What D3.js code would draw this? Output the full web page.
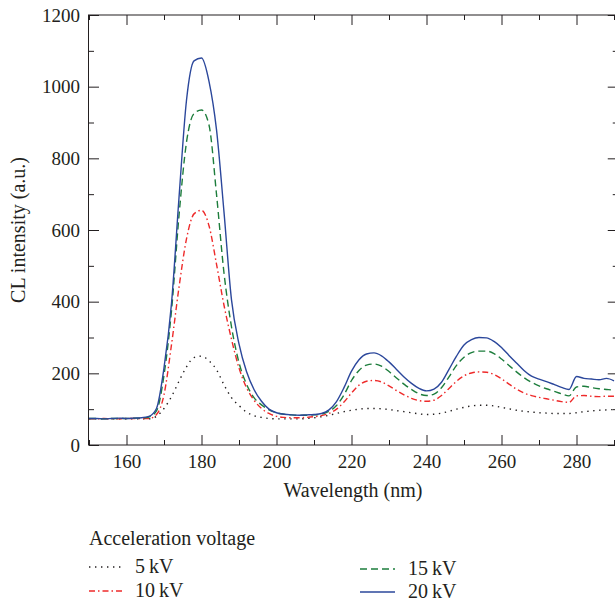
<!DOCTYPE html>
<meta charset="utf-8">
<style>
body{
	margin:0;
	background:#fff;
}
text{
	font-family:"Liberation Serif","DejaVu Serif",serif;
	font-size:20px;
	fill:#231f20;
}
.axis path{
	display:none;
}
.axis line{
	stroke:#231f20;
	stroke-width:1px;
}
.frame{
	fill:none;
	stroke:#231f20;
	stroke-width:1px;
}
.spec{
	fill:none;
	stroke-width:1.4px;
}
</style>
<body>
<script src="https://d3js.org/d3.v7.min.js"></script>
<script>

var wavelength=[150,152,154,156,158,160,162,164,166,168,170,172,174,176,178,180,182,184,186,188,
190,192,194,196,198,200,202,204,206,208,210,212,214,216,218,220,222,224,226,228,
230,232,234,236,238,240,242,244,246,248,250,252,254,256,258,260,262,264,266,268,
270,272,274,276,278,280,282,284,286,288,290];

var kv5=[73,73,73,73,73,73,73,73,73,80,102,135,178,218,244,248,235,210,168,132,
110,92,82,77,74,73,73,73,73,74,76,79,83,88,93,97,100,102,102,101,
99,96,93,90,87,85,86,89,94,100,105,109,111,111,109,105,101,97,94,92,
90,89,88,88,88,90,93,95,97,98,99];

var kv10=[73,73,74,73,73,74,74,74,74,85,140,280,440,575,645,655,612,505,390,295,
215,160,125,102,88,80,77,76,76,77,79,82,88,100,120,145,167,178,180,176,
165,152,140,130,124,122,125,138,158,178,193,201,204,203,197,185,170,156,145,138,
133,129,125,121,119,137,138,136,135,136,136];

var kv15=[74,74,73,74,74,74,75,75,78,95,195,375,640,845,925,935,893,700,480,330,
230,170,132,112,98,90,86,84,83,83,84,86,94,110,140,180,208,223,226,220,
205,187,170,155,143,138,142,160,190,222,245,258,262,262,255,240,222,204,188,175,
165,157,150,143,137,162,164,160,157,155,153];

var kv20=[74,74,73,74,75,74,75,76,80,102,215,395,690,962,1072,1080,1015,880,650,405,
282,205,155,122,100,90,86,84,83,84,85,88,98,121,160,206,238,254,257,249,
232,211,190,172,158,151,156,175,211,248,279,294,300,299,289,272,250,229,208,192,
184,177,169,161,155,191,186,184,182,186,179];

var xTicks=[160,180,200,220,240,260,280];
var xMinor=[150,170,190,210,230,250,270,290];
var yTicks=[0,200,400,600,800,1000,1200];
var yMinor=[100,300,500,700,900,1100];

var series=[
	{name:"5\u2009kV", values:kv5, color:"#231f20", dash:"1.4,4.6", col:0, row:0},
	{name:"10\u2009kV", values:kv10, color:"#ee2a2a", dash:"6,3,1.5,3", col:0, row:1},
	{name:"15\u2009kV", values:kv15, color:"#1d7d3c", dash:"7,4", col:1, row:0},
	{name:"20\u2009kV", values:kv20, color:"#2b479b", dash:null, col:1, row:1}
];

var W=615, H=604;
var svg=d3.select("body").append("svg").attr("width",W).attr("height",H);

var x=d3.scaleLinear().domain([150,291]).range([89,617.75]);
var y=d3.scaleLinear().domain([0,1200]).range([445,15]);

svg.append("clipPath").attr("id","plot")
	.append("rect").attr("x",89).attr("y",15).attr("width",617.75-89).attr("height",430);

// inward ticks on all four sides
svg.append("g").attr("class","axis").attr("transform","translate(0,445)")
	.call(d3.axisBottom(x).tickValues(xTicks).tickSize(-10).tickPadding(10).tickFormat(d3.format("d")));
svg.append("g").attr("class","axis").attr("transform","translate(0,445)")
	.call(d3.axisBottom(x).tickValues(xMinor).tickSize(-5).tickFormat(""));
svg.append("g").attr("class","axis").attr("transform","translate(0,15)")
	.call(d3.axisTop(x).tickValues(xTicks).tickSize(-10).tickFormat(""));
svg.append("g").attr("class","axis").attr("transform","translate(0,15)")
	.call(d3.axisTop(x).tickValues(xMinor).tickSize(-5).tickFormat(""));

svg.append("g").attr("class","axis").attr("transform","translate(89,0)")
	.call(d3.axisLeft(y).tickValues(yTicks).tickSize(-10).tickPadding(9).tickFormat(d3.format("d")));
svg.append("g").attr("class","axis").attr("transform","translate(89,0)")
	.call(d3.axisLeft(y).tickValues(yMinor).tickSize(-5).tickFormat(""));
svg.append("g").attr("class","axis").attr("transform","translate(617.75,0)")
	.call(d3.axisRight(y).tickValues(yTicks).tickSize(-10).tickFormat(""));
svg.append("g").attr("class","axis").attr("transform","translate(617.75,0)")
	.call(d3.axisRight(y).tickValues(yMinor).tickSize(-5).tickFormat(""));

svg.selectAll(".axis text").style("font-size","19px");

var line=d3.line()
	.x((d,i)=>x(wavelength[i]))
	.y(d=>y(d))
	.curve(d3.curveMonotoneX);

svg.append("g").attr("clip-path","url(#plot)")
	.selectAll("path").data(series).enter().append("path")
	.attr("class","spec")
	.attr("d",d=>line(d.values))
	.attr("stroke",d=>d.color)
	.attr("stroke-dasharray",d=>d.dash);

svg.append("rect").attr("class","frame")
	.attr("x",x(150)-0.5).attr("y",y(1200)).attr("width",x(291)-x(150)+0.5).attr("height",y(0)-y(1200));

svg.append("text").attr("x",353).attr("y",497).attr("text-anchor","middle")
	.text("Wavelength (nm)");
svg.append("text").attr("transform","translate(25,230) rotate(-90)").attr("text-anchor","middle")
	.text("CL intensity (a.u.)");

// legend
var lg=svg.append("g");
lg.append("text").attr("x",89).attr("y",545).text("Acceleration voltage");
var item=lg.selectAll(".item").data(series).enter().append("g")
	.attr("transform",d=>"translate("+(d.col? 360:89)+","+(d.col? 569+d.row*23:567+d.row*24)+")");
item.append("line").attr("x1",0).attr("x2",35).attr("y1",0).attr("y2",0)
	.attr("stroke",d=>d.color).attr("stroke-width",1.4).attr("stroke-dasharray",d=>d.dash);
item.append("text").attr("x",d=>d.col? 48:46).attr("y",6).text(d=>d.name);

</script>
</body>
</html>
